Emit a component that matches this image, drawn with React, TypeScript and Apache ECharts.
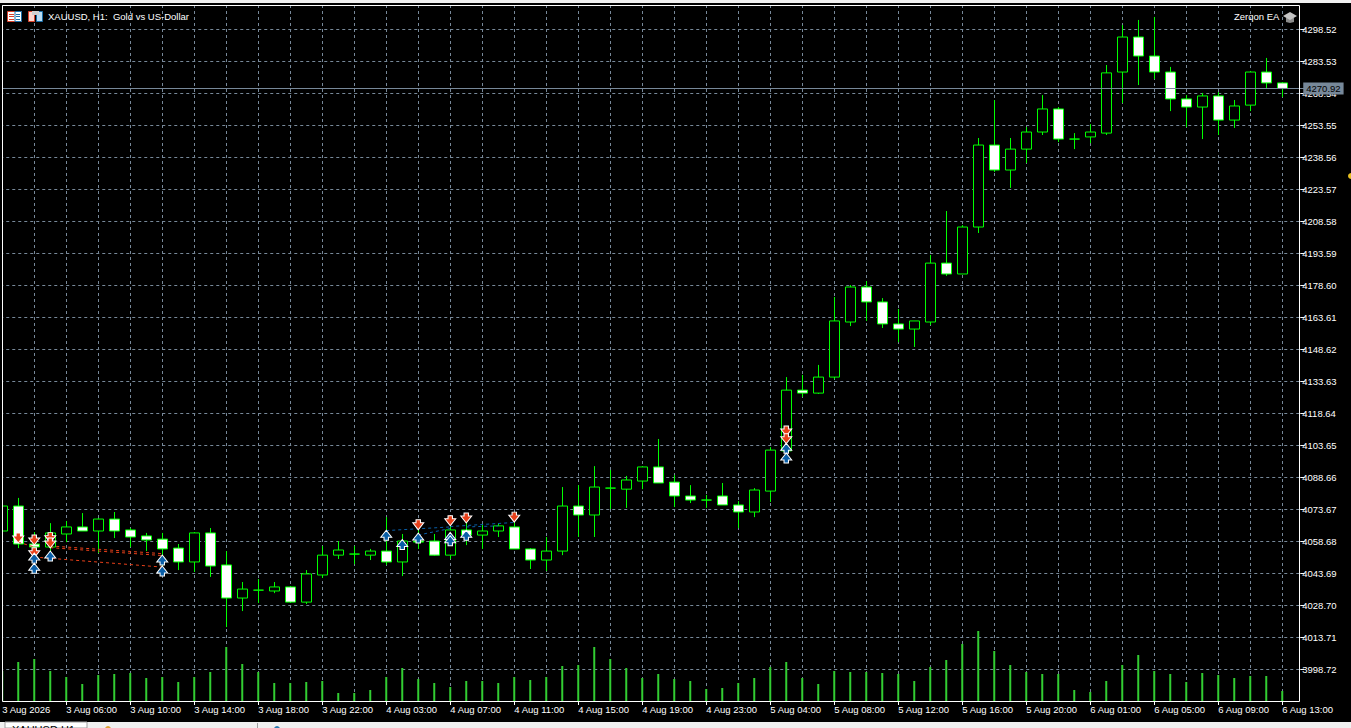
import React, { useEffect, useRef } from "react";
import * as echarts from "echarts";

const categories = [
  "3 Aug 2026","3 Aug 03:00","3 Aug 04:00","3 Aug 05:00","3 Aug 06:00","3 Aug 07:00","3 Aug 08:00","3 Aug 09:00",
  "3 Aug 10:00","3 Aug 11:00","3 Aug 12:00","3 Aug 13:00","3 Aug 14:00","3 Aug 15:00","3 Aug 16:00","3 Aug 17:00",
  "3 Aug 18:00","3 Aug 19:00","3 Aug 20:00","3 Aug 21:00","3 Aug 22:00","3 Aug 23:00","4 Aug 01:00","4 Aug 02:00",
  "4 Aug 03:00","4 Aug 04:00","4 Aug 05:00","4 Aug 06:00","4 Aug 07:00","4 Aug 08:00","4 Aug 09:00","4 Aug 10:00",
  "4 Aug 11:00","4 Aug 12:00","4 Aug 13:00","4 Aug 14:00","4 Aug 15:00","4 Aug 16:00","4 Aug 17:00","4 Aug 18:00",
  "4 Aug 19:00","4 Aug 20:00","4 Aug 21:00","4 Aug 22:00","4 Aug 23:00","5 Aug 01:00","5 Aug 02:00","5 Aug 03:00",
  "5 Aug 04:00","5 Aug 05:00","5 Aug 06:00","5 Aug 07:00","5 Aug 08:00","5 Aug 09:00","5 Aug 10:00","5 Aug 11:00",
  "5 Aug 12:00","5 Aug 13:00","5 Aug 14:00","5 Aug 15:00","5 Aug 16:00","5 Aug 17:00","5 Aug 18:00","5 Aug 19:00",
  "5 Aug 20:00","5 Aug 21:00","5 Aug 22:00","5 Aug 23:00","6 Aug 01:00","6 Aug 02:00","6 Aug 03:00","6 Aug 04:00",
  "6 Aug 05:00","6 Aug 06:00","6 Aug 07:00","6 Aug 08:00","6 Aug 09:00","6 Aug 10:00","6 Aug 11:00","6 Aug 12:00",
  "6 Aug 13:00","",
];

// [open, close, low, high]
const priceBars = [
  [4063.6,4075.3,4063.6,4075.3],[4075.3,4057.5,4055.6,4079.1],[4057.5,4056.1,4048.6,4063.1],[4056.1,4062.7,4053.3,4067.3],
  [4062.2,4065.5,4058.4,4068.3],[4065.5,4063.6,4063.6,4072.0],[4063.6,4069.2,4053.3,4069.7],[4069.2,4063.6,4060.3,4072.5],
  [4064.1,4060.8,4056.1,4065.0],[4061.3,4059.4,4054.2,4062.7],[4059.8,4055.2,4046.7,4062.7],[4055.6,4049.1,4045.3,4057.5],
  [4049.1,4062.7,4044.4,4063.1],[4062.7,4047.2,4042.1,4065.0],[4047.7,4032.2,4018.6,4054.2],[4032.2,4036.4,4026.1,4039.7],
  [4035.9,4035.9,4029.9,4041.1],[4035.5,4037.4,4034.5,4039.7],[4037.4,4030.3,4029.9,4037.8],[4030.3,4043.5,4029.4,4045.3],
  [4043.0,4052.3,4041.6,4056.6],[4052.3,4054.7,4050.5,4058.9],[4052.8,4052.8,4048.1,4056.6],[4052.3,4054.2,4050.0,4055.2],
  [4054.2,4049.1,4047.7,4070.1],[4049.1,4058.9,4042.5,4062.2],[4058.9,4058.4,4055.2,4064.5],[4058.9,4052.3,4051.9,4062.2],
  [4052.3,4064.1,4050.5,4066.4],[4064.1,4061.7,4057.0,4067.3],[4061.7,4063.6,4055.2,4066.9],[4063.6,4066.0,4060.8,4067.3],
  [4065.5,4055.2,4055.2,4072.5],[4055.2,4050.0,4045.8,4055.6],[4050.0,4054.2,4044.9,4060.8],[4054.2,4075.3,4052.3,4084.2],
  [4075.3,4071.1,4060.8,4085.1],[4071.1,4084.2,4060.8,4094.0],[4083.7,4083.7,4073.9,4092.2],[4083.2,4087.5,4074.4,4089.4],
  [4087.0,4093.6,4083.2,4094.0],[4093.6,4086.1,4086.1,4106.7],[4086.5,4080.0,4074.8,4089.8],[4080.0,4078.1,4076.7,4085.1],
  [4078.1,4078.1,4074.4,4080.5],[4080.0,4075.8,4075.8,4086.1],[4075.8,4072.5,4065.0,4077.6],[4072.5,4082.8,4070.1,4083.7],
  [4082.3,4101.5,4077.2,4102.9],[4101.1,4129.6,4095.4,4135.7],[4129.6,4128.2,4126.4,4136.7],[4128.2,4135.7,4127.8,4141.4],
  [4135.7,4162.0,4134.8,4173.2],[4161.5,4177.9,4159.6,4178.8],[4177.9,4170.9,4162.0,4180.7],[4170.9,4160.6,4158.7,4172.7],
  [4160.6,4158.2,4152.1,4167.6],[4158.2,4162.0,4149.8,4162.0],[4161.5,4189.1,4160.1,4192.9],[4189.1,4184.0,4183.1,4213.5],
  [4184.0,4206.0,4184.0,4206.9],[4206.0,4244.4,4203.2,4247.7],[4244.4,4232.7,4231.8,4265.5],[4232.7,4242.5,4224.3,4247.7],
  [4242.5,4250.5,4236.0,4252.8],[4250.5,4261.3,4249.1,4267.8],[4261.3,4247.2,4245.8,4262.2],[4247.2,4247.2,4242.5,4250.0],
  [4248.2,4250.5,4245.3,4254.2],[4250.0,4278.2,4249.1,4281.9],[4278.6,4295.0,4264.1,4300.6],[4295.0,4286.1,4272.5,4303.0],
  [4286.1,4278.6,4275.3,4304.4],[4278.6,4266.0,4260.3,4281.0],[4266.0,4262.2,4252.8,4267.8],[4262.2,4267.4,4247.2,4268.8],
  [4267.4,4256.1,4249.1,4269.2],[4256.1,4262.7,4252.4,4265.5],[4263.1,4278.6,4260.3,4279.1],[4278.6,4273.5,4271.1,4285.2],
  [4273.5,4270.92,4266.9,4273.9],
];

const tickVolumes = [
  3000,3900,4200,3000,2400,1700,2600,2700,2800,2300,2400,1900,2400,2900,5400,3700,2900,1800,1800,1900,
  2000,800,800,1100,2400,3300,2200,1800,1400,2000,2000,1800,2400,2100,2400,3500,3600,5400,4200,3300,
  2300,2700,2200,2000,1200,1300,1800,2300,3400,3900,2300,1700,3000,2900,2900,2800,2700,2000,3400,4100,
  5700,7000,5000,3600,2900,2700,2700,1100,900,2000,3600,4600,3000,2700,1900,2800,2600,2300,2500,2500,1000,
];

const priceTicks = [
  3998.72,4013.71,4028.70,4043.69,4058.68,4073.67,4088.66,4103.65,4118.64,4133.63,4148.62,
  4163.61,4178.60,4193.59,4208.58,4223.57,4238.56,4253.55,4268.54,4283.53,4298.52,
];

const lastPrice = 4270.92;

const sellSignals = [
  [1,4060.3],[2,4059.4],[2,4053.4],[3,4060.5],[3,4058.0],
  [26,4066.5],[28,4068.4],[29,4069.7],[32,4070.1],
  [49,4110.4],[49,4106.8],
];
const buySignals = [
  [2,4050.9],[2,4046.2],[3,4051.9],[10,4050.0],[10,4044.9],
  [24,4061.6],[25,4057.3],[26,4060.3],[28,4060.6],[28,4059.0],[29,4061.6],
  [49,4102.4],[49,4097.8],
];

const sellTrades = [
  [[1,4058.4],[2,4056.1]],
  [[3,4056.6],[10,4053.0]],
  [[3,4055.8],[10,4052.1]],
  [[2,4051.4],[10,4046.7]],
];
const buyTrades = [
  [[24,4063.8],[28,4065.5]],
  [[26,4061.7],[28,4064.8]],
  [[28,4065.7],[32,4067.6]],
  [[29,4065.5],[31,4066.0]],
];

const FONT = "Liberation Sans";
const GRID = "#778899";
const LIME = "#00FF00";
const SHIFT = 6; // the container starts 6px left of the window so the first band may be cut off
const downArrow = "path://M3,0 L7,0 L7,3 L10,3 L5,10 L0,3 L3,3 Z";
const upArrow = "path://M5,0 L10,7 L7,7 L7,10 L3,10 L3,7 L0,7 Z";

function tradeSeries(list: number[][][], color: string) {
  return list.map((d) => ({
    type: "line",
    data: d,
    symbol: "none",
    silent: true,
    z: 4,
    lineStyle: { color, width: 1, type: [3, 3] },
  }));
}

function signalSeries(data: number[][], symbol: string, color: string) {
  return {
    type: "scatter",
    data,
    symbol,
    symbolSize: [11, 10],
    silent: true,
    z: 6,
    itemStyle: { color, borderColor: "#fff", borderWidth: 1, opacity: 1 },
  };
}

const r = (x: number, y: number, width: number, height: number, fill: string, stroke?: string) => ({
  type: "rect",
  silent: true,
  z: 50,
  shape: { x, y, width, height },
  style: stroke ? { fill, stroke, lineWidth: 1 } : { fill },
});

const graphics = [
  // chrome of the terminal
  r(0, 0, 1351, 3, "#f0f0f0"),
  r(0, 722, 1351, 6, "#f0f0f0"),
  r(5, 722, 82, 6, "#ffffff", "#a0a0a0"),
  r(257, 723, 1, 5, "#a0a0a0"),
  { type: "circle", silent: true, z: 50, shape: { cx: 108, cy: 729, r: 3 }, style: { fill: "#e0a030" } },
  { type: "circle", silent: true, z: 50, shape: { cx: 277, cy: 729, r: 3 }, style: { fill: "#2a7ab0" } },
  { type: "text", silent: true, z: 51, x: 12, y: 724, style: { text: "XAUUSD,H1", fill: "#000", font: `11px ${FONT}` } },
  // frame
  r(0, 5, 2, 697, "#000"),
  r(2.5, 5.5, 1297, 696, "transparent", "#ffffff"),
  // title icons
  r(7.5, 11.5, 14, 10, "#fff", "#d8402a"),
  r(15, 11.5, 6.5, 10, "#fff", "#1a6ea8"),
  r(9, 14, 5, 1, "#d8402a"), r(9, 16, 5, 1, "#d8402a"), r(9, 19, 5, 1, "#d8402a"),
  r(16, 14, 4, 1, "#1a6ea8"), r(16, 16, 4, 1, "#1a6ea8"), r(16, 19, 4, 1, "#1a6ea8"),
  r(28.5, 11.5, 6, 10, "#fcd8d0", "#d8402a"),
  r(36.5, 11.5, 6, 10, "#b8dcf4", "#1a6ea8"),
  r(32, 11, 7, 4, "#cfcfcf"),
  { type: "text", silent: true, z: 51, x: 48, y: 11, style: { text: "XAUUSD, H1:  Gold vs US-Dollar", fill: "#fff", font: `9.5px ${FONT}` } },
  { type: "text", silent: true, z: 51, x: 1234, y: 11, style: { text: "Zerqon EA", fill: "#fff", font: `9.5px ${FONT}` } },
  // mortarboard
  { type: "polygon", silent: true, z: 50, shape: { points: [[1286, 18], [1294, 18], [1294, 22], [1290, 23], [1286, 22]] }, style: { fill: "#8c8c8c" } },
  { type: "polygon", silent: true, z: 51, shape: { points: [[1283, 16], [1290, 12], [1297, 16], [1290, 20]] }, style: { fill: "#c4c4c4" } },
  // off-chart dot at the window edge
  { type: "circle", silent: true, z: 50, shape: { cx: 1351, cy: 176, r: 3 }, style: { fill: "#e8c020" } },
];

export default function App() {
  const ref = useRef<HTMLDivElement>(null);
  useEffect(() => {
    document.body.style.margin = "0";
    document.body.style.overflow = "hidden";
    const chart = echarts.init(ref.current!, undefined, { renderer: "svg" });
    chart.setOption({
      animation: false,
      backgroundColor: "#000",
      textStyle: { fontFamily: FONT },
      grid: { left: 0.25, top: 5, width: 16 * categories.length, height: 696, containLabel: false },
      xAxis: {
        type: "category",
        data: categories,
        boundaryGap: true,
        axisLine: { show: false },
        axisTick: {
          show: true,
          alignWithLabel: true,
          length: 4,
          interval: (i: number) => i % 4 === 0 && i > 0,
          lineStyle: { color: "#fff", width: 1 },
        },
        axisLabel: {
          color: "#fff",
          fontFamily: FONT,
          fontSize: 9.5,
          align: "left",
          margin: 3,
          interval: (i: number) => i % 4 === 0,
        },
        splitLine: {
          show: true,
          alignWithLabel: true,
          interval: (i: number) => i % 2 === 0,
          lineStyle: { color: GRID, width: 1, type: [3, 3] },
        },
      },
      yAxis: [
        {
          type: "value",
          position: "right",
          offset: -6,
          min: 3983.97,
          max: 4310.0,
          axisLine: { show: false },
          axisTick: { show: true, length: 4, customValues: priceTicks, lineStyle: { color: "#fff", width: 1 } },
          axisLabel: {
            color: "#fff",
            fontFamily: FONT,
            fontSize: 9.5,
            margin: 2,
            customValues: priceTicks,
            formatter: (v: number) => v.toFixed(2),
          },
          splitLine: { show: true, lineStyle: { color: GRID, width: 1, type: [3, 3] } },
        },
        { type: "value", min: 0, max: 69600, show: false },
      ],
      series: [
        {
          type: "bar",
          data: tickVolumes,
          yAxisIndex: 1,
          barWidth: 2,
          silent: true,
          z: 2,
          itemStyle: { color: "#32CD32" },
        },
        {
          type: "candlestick",
          data: priceBars,
          barWidth: 10,
          silent: true,
          z: 3,
          itemStyle: {
            color: "#000",
            color0: "#fff",
            borderColor: LIME,
            borderColor0: LIME,
            borderColorDoji: LIME,
            borderWidth: 1,
          },
          markLine: {
            silent: true,
            symbol: ["none", "none"],
            animation: false,
            lineStyle: { color: GRID, width: 1, type: "solid" },
            label: {
              show: true,
              position: "end",
              formatter: lastPrice.toFixed(2),
              distance: -3,
              color: "#000",
              backgroundColor: GRID,
              fontFamily: FONT,
              fontSize: 9.5,
              padding: [1, 3, 1, 3],
            },
            data: [{ yAxis: lastPrice }],
          },
        },
        ...tradeSeries(sellTrades, "#e8401a"),
        ...tradeSeries(buyTrades, "#0a5fa8"),
        signalSeries(sellSignals, downArrow, "#e8401a"),
        signalSeries(buySignals, upArrow, "#0a5fa8"),
      ],
      graphic: [{ type: "group", x: SHIFT, y: 0, silent: true, z: 50, children: graphics }],
    });
    return () => chart.dispose();
  }, []);
  return <div ref={ref} style={{ position: "absolute", left: -SHIFT, top: 0, width: 1351 + SHIFT, height: 728 }} />;
}
